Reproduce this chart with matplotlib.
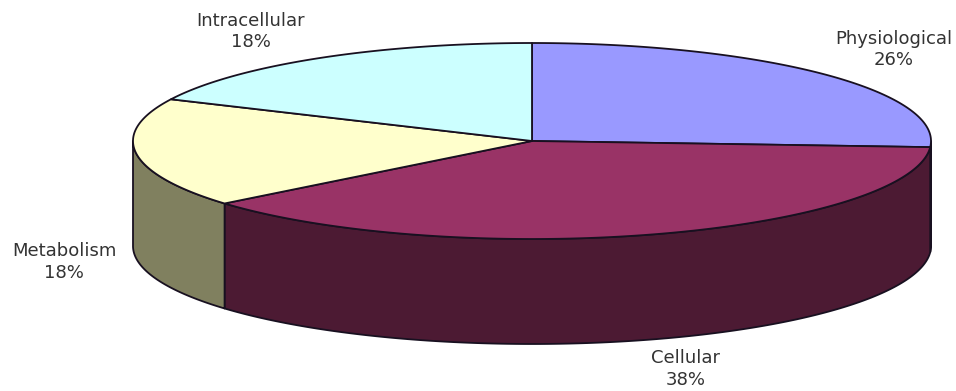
import matplotlib
matplotlib.use("Agg")
import matplotlib.pyplot as plt
import numpy as np

categories = ["Physiological", "Cellular", "Metabolism", "Intracellular"]
values = [26, 38, 18, 18]

top_colors = ["#9999ff", "#993366", "#ffffcc", "#ccffff"]
side_colors = ["#4c4c80", "#4c1a33", "#80805f", "#668080"]
label_pos = [(894, 49.5), (686, 369), (64, 262), (251, 31.5)]

# ellipse geometry in pixels
CX, CY = 532, 141
RX, RY = 399, 98
DEPTH = 105
EDGE = "#181020"


def arc(start, stop, dy=0):
    t = np.radians(np.linspace(start, stop, 200))
    return CX + RX * np.cos(t), CY - RY * np.sin(t) + dy


fig = plt.figure(figsize=(9.56, 3.91), dpi=100)
ax = fig.add_axes([0, 0, 1, 1])
ax.set_xlim(0, 956)
ax.set_ylim(391, 0)
ax.axis("off")

# slices run clockwise from twelve o'clock
sweep = 360 * np.array(values) / sum(values)
stops = 90 - np.cumsum(sweep)
starts = stops + sweep

# side walls, only the front half of the rim shows
for start, stop, color in zip(starts, stops, side_colors):
    lo = max(stop, -180)
    hi = min(start, 0)
    if lo >= hi:
        continue
    x, y = arc(hi, lo)
    xb, yb = arc(lo, hi, DEPTH)
    ax.fill(np.r_[x, xb], np.r_[y, yb], facecolor=color, edgecolor=EDGE,
            linewidth=1.3, joinstyle="round", zorder=2)

# top face
for start, stop, color in zip(starts, stops, top_colors):
    x, y = arc(start, stop)
    ax.fill(np.r_[CX, x], np.r_[CY, y], facecolor=color, edgecolor=EDGE,
            linewidth=1.3, joinstyle="round", zorder=3)

for name, val, (lx, ly) in zip(categories, values, label_pos):
    ax.text(lx, ly, f"{name}\n{val}%", ha="center", va="center", fontsize=13,
            family="DejaVu Sans", color="#333333", linespacing=1.28, zorder=4)

fig.savefig("out.png", dpi=100, facecolor="white")
